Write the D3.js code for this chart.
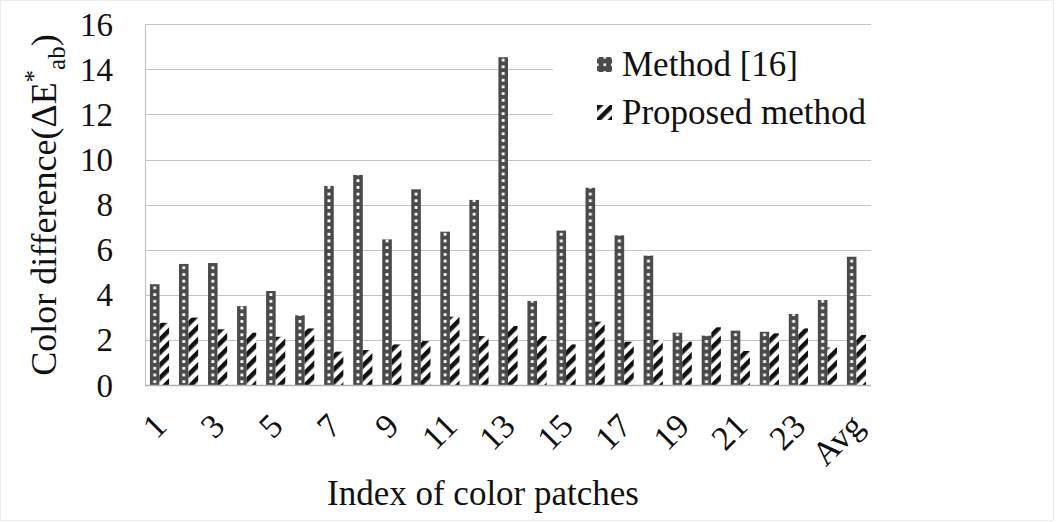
<!DOCTYPE html>
<html>
<head>
<meta charset="utf-8">
<script src="https://cdn.jsdelivr.net/npm/d3@7"></script>
<style>
  html, body { margin: 0; padding: 0; background: #ffffff; }
  svg { display: block; }
  text { font-family: "Liberation Serif", "Times New Roman", serif; fill: #111; }
</style>
</head>
<body>
<svg id="chart" width="1056" height="522"></svg>
<script>
// ---------------- data ----------------
const categories = ["1","2","3","4","5","6","7","8","9","10","11","12","13","14","15","16","17","18","19","20","21","22","23","24","Avg"];
const tickLabels = ["1","3","5","7","9","11","13","15","17","19","21","23","Avg"];
const seriesNames = ["Method [16]", "Proposed method"];
const method16 = [4.47,5.37,5.41,3.50,4.17,3.09,8.83,9.32,6.46,8.68,6.80,8.21,14.54,3.73,6.85,8.75,6.64,5.74,2.32,2.19,2.41,2.36,3.15,3.77,5.69];
const proposed = [2.76,2.99,2.47,2.32,2.14,2.51,1.48,1.55,1.80,1.95,3.03,2.17,2.62,2.17,1.80,2.81,1.92,2.00,1.92,2.56,1.51,2.29,2.51,1.67,2.22];
const yTicks = [0,2,4,6,8,10,12,14,16];

// ---------------- layout ----------------
const W = 1056, H = 522;
const plot = { left: 145, right: 871, top: 24.3, bottom: 385 };
const svg = d3.select("#chart");

svg.append("rect").attr("x", 0.5).attr("y", 0.5).attr("width", 1053).attr("height", 520)
  .attr("fill", "#ffffff").attr("stroke", "#ededed");

const x0 = d3.scaleBand().domain(categories).range([plot.left, plot.right])
  .paddingInner(0.34).paddingOuter(0.17);
const x1 = d3.scaleBand().domain(["m", "p"]).range([0, x0.bandwidth()]);
const y = d3.scaleLinear().domain([0, 16]).range([plot.bottom, plot.top]);

// ---------------- patterns ----------------
const defs = svg.append("defs");
const dotPat = defs.append("pattern").attr("id", "dots")
  .attr("patternUnits", "userSpaceOnUse")
  .attr("x", x0(categories[0]) + x1("m")).attr("y", y(0))
  .attr("width", x0.step()).attr("height", 6.7);
dotPat.append("rect").attr("width", x0.step()).attr("height", 6.7).attr("fill", "#4a4a4a");
dotPat.append("rect").attr("x", x1.bandwidth() / 2 - 1.4).attr("y", 2).attr("width", 2.8).attr("height", 2.8).attr("fill", "#ffffff");

const dotLeg = defs.append("pattern").attr("id", "dotsLeg")
  .attr("patternUnits", "userSpaceOnUse").attr("x", 597).attr("y", 57)
  .attr("width", 7.5).attr("height", 7.5);
dotLeg.append("rect").attr("width", 7.5).attr("height", 7.5).attr("fill", "#4a4a4a");
dotLeg.append("rect").attr("x", 2).attr("y", 2).attr("width", 2.6).attr("height", 2.6).attr("fill", "#ffffff");

const hatch = defs.append("pattern").attr("id", "hatch")
  .attr("patternUnits", "userSpaceOnUse").attr("width", 9).attr("height", 9)
  .attr("patternTransform", "rotate(45)");
hatch.append("rect").attr("width", 9).attr("height", 9).attr("fill", "#ffffff");
hatch.append("rect").attr("x", 0).attr("width", 4.6).attr("height", 9).attr("fill", "#111111");

// ---------------- grid ----------------
svg.append("g").selectAll("line").data(yTicks.filter(d => d > 0)).join("line")
  .attr("x1", plot.left).attr("x2", plot.right)
  .attr("y1", d => Math.round(y(d)) + 0.5).attr("y2", d => Math.round(y(d)) + 0.5)
  .attr("stroke", "#c4c4c4").attr("stroke-width", 1.2);

// left frame line
svg.append("line").attr("x1", plot.left + 0.5).attr("x2", plot.left + 0.5)
  .attr("y1", plot.top).attr("y2", plot.bottom)
  .attr("stroke", "#c4c4c4").attr("stroke-width", 1.2);

// ---------------- bars ----------------
const rows = categories.map((c, i) => ({ c, m: method16[i], p: proposed[i] }));
const bars = svg.append("g");
bars.selectAll("rect.m").data(rows).join("rect").attr("class", "m")
  .attr("x", d => x0(d.c) + x1("m")).attr("width", x1.bandwidth())
  .attr("y", d => y(d.m)).attr("height", d => y(0) - y(d.m))
  .attr("fill", "url(#dots)");
bars.selectAll("rect.p").data(rows).join("rect").attr("class", "p")
  .attr("x", d => x0(d.c) + x1("p")).attr("width", x1.bandwidth())
  .attr("y", d => y(d.p)).attr("height", d => y(0) - y(d.p))
  .attr("fill", "url(#hatch)");

// x axis line
svg.append("line").attr("x1", plot.left).attr("x2", plot.right)
  .attr("y1", plot.bottom + 0.5).attr("y2", plot.bottom + 0.5)
  .attr("stroke", "#b0b0b0").attr("stroke-width", 1.3);

// ---------------- y axis ----------------
svg.append("g").selectAll("text").data(yTicks).join("text")
  .attr("x", 113).attr("y", d => y(d))
  .attr("dy", "0.35em").attr("text-anchor", "end")
  .attr("font-size", 33).text(d => d);

const yt = svg.append("text")
  .attr("transform", `translate(56,205) rotate(-90)`)
  .attr("text-anchor", "middle").attr("font-size", 36);
yt.append("tspan").text("Color difference(ΔE");
yt.append("tspan").attr("dy", -14).attr("font-size", 25).text("*");
yt.append("tspan").attr("dy", 23).attr("font-size", 25).text("ab");
yt.append("tspan").attr("dy", -9).text(")");

// ---------------- x axis labels ----------------
svg.append("g").selectAll("text").data(tickLabels).join("text")
  .attr("transform", d => `translate(${x0(d) + x0.bandwidth() / 2 + 9},${plot.bottom + 43}) rotate(-45)`)
  .attr("text-anchor", "end").attr("font-size", 34).text(d => d);

svg.append("text").attr("x", (plot.left + plot.right) / 2 - 25).attr("y", 505)
  .attr("text-anchor", "middle").attr("font-size", 35).text("Index of color patches");

// ---------------- legend ----------------
svg.append("rect").attr("x", 553).attr("y", 34).attr("width", 325).attr("height", 108).attr("fill", "#ffffff");
const legFills = ["url(#dotsLeg)", "url(#hatch)"];
const leg = svg.append("g").selectAll("g").data(seriesNames).join("g")
  .attr("transform", (d, i) => `translate(597,${57 + i * 48})`);
leg.append("rect").attr("width", 15).attr("height", 15).attr("fill", (d, i) => legFills[i]);
leg.append("text").attr("x", 25).attr("y", 19).attr("font-size", 35).text(d => d);
</script>
</body>
</html>
